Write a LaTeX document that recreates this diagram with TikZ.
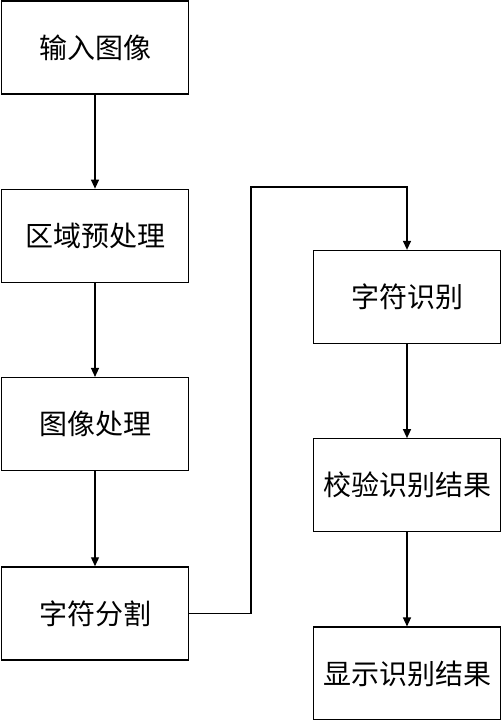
\documentclass[tikz,border=0pt]{standalone}
\usepackage{fontspec}
\setmainfont{Noto Sans CJK SC}
\usetikzlibrary{arrows.meta,positioning}

\begin{document}
\begin{tikzpicture}[
  >={Triangle[length=9pt,width=8pt]},
  node distance=94pt,
  every node/.style={font=\fontsize{28}{33}\selectfont},
  flowbox/.style={draw, line width=1.3pt, minimum width=187pt, minimum height=93pt, inner sep=0pt, align=center},
  flowline/.style={->, line width=1.3pt}
]
\useasboundingbox (0,0) rectangle (502pt,-720pt);
% left column
\node[flowbox] (input) at (95pt,-47.5pt) {输入图像};
\node[flowbox, below=of input] (prep) {区域预处理};
\node[flowbox, below=of prep] (proc) {图像处理};
\node[flowbox, below=95pt of proc] (seg) {字符分割};
% right column
\node[flowbox] (rec) at (407pt,-297pt) {字符识别};
\node[flowbox, below=of rec] (check) {校验识别结果};
\node[flowbox, below=of check] (show) {显示识别结果};

\coordinate (turn) at (251pt,-187pt);

\draw[flowline] (input) -- (prep);
\draw[flowline] (prep) -- (proc);
\draw[flowline] (proc) -- (seg);
\draw[flowline] (seg.east) -| (turn) -| (rec.north);
\draw[flowline] (rec) -- (check);
\draw[flowline] (check) -- (show);
\end{tikzpicture}
\end{document}
